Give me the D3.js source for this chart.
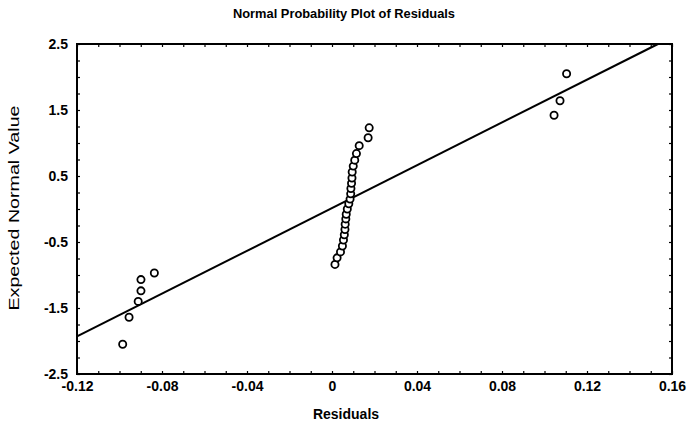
<!DOCTYPE html>
<html>
<head>
<meta charset="utf-8">
<script src="https://cdn.jsdelivr.net/npm/d3@7"></script>
<style>
  body { margin: 0; background: #fff; }
  svg text { font-family: "Liberation Sans", Arial, sans-serif; fill: #000; }
</style>
</head>
<body>
<div id="chart"></div>
<script>
(function(d3) {
  'use strict';

  // residuals (x) and their expected normal values (y)
  var residuals = [-0.0985, -0.0955, -0.0912, -0.0899, -0.0899, -0.0836,
    0.0014, 0.0024, 0.0040, 0.0049, 0.0054, 0.0058, 0.0061, 0.0062, 0.0065, 0.0067,
    0.0072, 0.0079, 0.0085, 0.0088, 0.0089, 0.0092, 0.0094, 0.0095, 0.0100, 0.0107,
    0.0115, 0.0128, 0.0170, 0.0175,
    0.1045, 0.1073, 0.1104];
  var expected = [-2.05, -1.64, -1.40, -1.24, -1.07, -0.97,
    -0.84, -0.74, -0.65, -0.56, -0.47, -0.39, -0.31, -0.23, -0.15, -0.08,
    0.00, 0.08, 0.15, 0.23, 0.31, 0.39, 0.47, 0.56, 0.65, 0.74,
    0.84, 0.96, 1.08, 1.23,
    1.42, 1.64, 2.05];

  // fitted line end points
  var fitX = [-0.12, 0.1534];
  var fitY = [-1.93, 2.5];

  var xTicks = [-0.12, -0.08, -0.04, 0, 0.04, 0.08, 0.12, 0.16];
  var yTicks = [-2.5, -1.5, -0.5, 0.5, 1.5, 2.5];

  var width = 688, height = 427;
  var margin = {top: 44, right: 16, bottom: 53, left: 77};
  var w = width - margin.left - margin.right;
  var h = height - margin.top - margin.bottom;

  var x = d3.scaleLinear().domain([-0.12, 0.16]).range([0, w]);
  var y = d3.scaleLinear().domain([-2.5, 2.5]).range([h, 0]);

  var fmt = function(d) {
    return String(+d.toFixed(2));
  };

  var svg = d3.select('#chart')
    .append('svg')
    .attr('width', width)
    .attr('height', height);

  svg.append('text')
    .attr('x', 344)
    .attr('y', 18)
    .attr('text-anchor', 'middle')
    .attr('font-size', '13px')
    .attr('font-weight', 'bold')
    .attr('textLength', 222)
    .attr('lengthAdjust', 'spacingAndGlyphs')
    .text('Normal Probability Plot of Residuals');

  var g = svg.append('g')
    .attr('transform', 'translate(' + margin.left + ',' + margin.top + ')');

  // minor ticks, pointing into the frame
  var minorX = d3.range(-0.12, 0.1601, 0.01);
  var minorY = d3.range(-2.5, 2.501, 0.25);
  g.append('g').attr('class', 'minor')
    .attr('transform', 'translate(0,' + h + ')')
    .call(d3.axisBottom(x).tickValues(minorX).tickSize(-3).tickFormat(''));
  g.append('g').attr('class', 'minor')
    .call(d3.axisTop(x).tickValues(minorX).tickSize(-3).tickFormat(''));
  g.append('g').attr('class', 'minor')
    .call(d3.axisLeft(y).tickValues(minorY).tickSize(-3).tickFormat(''));
  g.append('g').attr('class', 'minor')
    .attr('transform', 'translate(' + w + ',0)')
    .call(d3.axisRight(y).tickValues(minorY).tickSize(-3).tickFormat(''));
  g.selectAll('.minor .domain').remove();
  g.selectAll('.minor line').attr('stroke', '#000').attr('stroke-width', 1.2);

  // labels
  var xAxis = g.append('g')
    .attr('transform', 'translate(0,' + h + ')')
    .call(d3.axisBottom(x).tickValues(xTicks).tickSize(0).tickPadding(7).tickFormat(fmt));
  var yAxis = g.append('g')
    .call(d3.axisLeft(y).tickValues(yTicks).tickSize(0).tickPadding(9).tickFormat(fmt));
  xAxis.select('.domain').remove();
  yAxis.select('.domain').remove();
  g.selectAll('.tick text')
    .attr('font-family', '"Liberation Sans", Arial, sans-serif')
    .attr('font-size', '14px')
    .attr('font-weight', 'bold');

  // frame
  g.append('rect')
    .attr('width', w)
    .attr('height', h)
    .attr('fill', 'none')
    .attr('stroke', '#000')
    .attr('stroke-width', 2);

  // fitted line
  var line = d3.line()
    .x(function(d) { return x(d[0]); })
    .y(function(d) { return y(d[1]); });
  g.append('path')
    .attr('d', line(d3.zip(fitX, fitY)))
    .attr('fill', 'none')
    .attr('stroke', '#000')
    .attr('stroke-width', 2);

  // points
  g.selectAll('.pt')
    .data(d3.zip(residuals, expected))
    .enter().append('circle')
    .attr('class', 'pt')
    .attr('cx', function(d) { return x(d[0]); })
    .attr('cy', function(d) { return y(d[1]); })
    .attr('r', 3.6)
    .attr('fill', '#fff')
    .attr('stroke', '#000')
    .attr('stroke-width', 1.8);

  svg.append('text')
    .attr('x', 346)
    .attr('y', 419)
    .attr('text-anchor', 'middle')
    .attr('font-size', '14px')
    .attr('font-weight', 'bold')
    .text('Residuals');

  svg.append('text')
    .attr('transform', 'translate(19,208) rotate(-90)')
    .attr('text-anchor', 'middle')
    .attr('font-size', '14px')
    .attr('textLength', 205)
    .attr('lengthAdjust', 'spacingAndGlyphs')
    .text('Expected Normal Value');
})(window.d3);
</script>
</body>
</html>
